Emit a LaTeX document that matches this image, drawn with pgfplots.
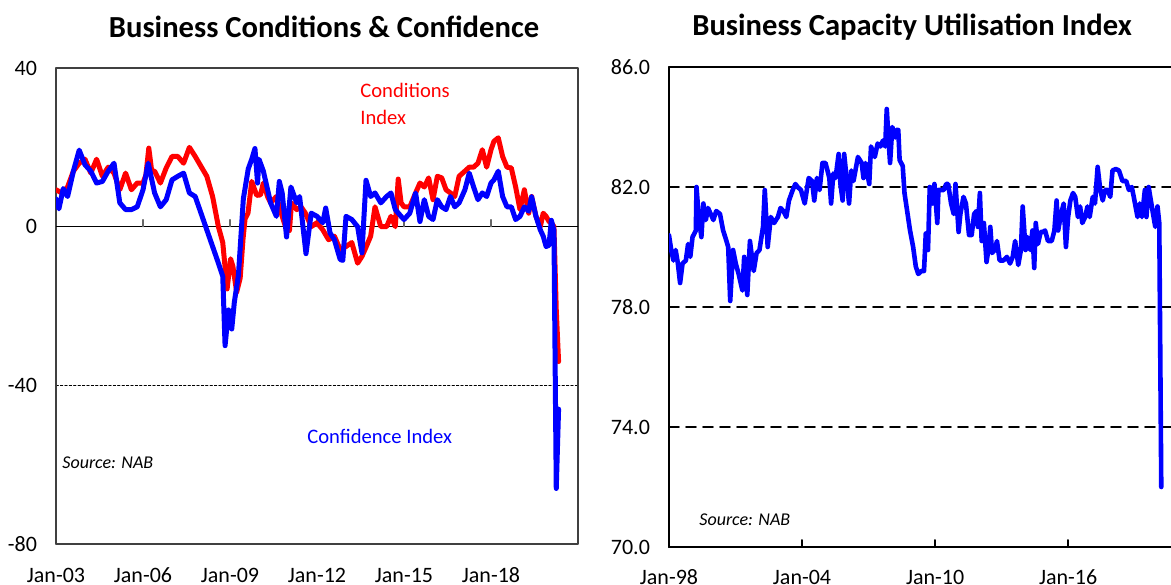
\documentclass[border=0pt]{standalone}
\usepackage{pgfplots}
\pgfplotsset{compat=1.18}
\usepackage{fontspec}
\setmainfont{Carlito}
\definecolor{cred}{RGB}{255,0,0}
\definecolor{cblue}{RGB}{0,0,255}
\begin{document}
\begin{tikzpicture}
% ---------------- Left chart ----------------
\begin{axis}[
  at={(28pt,20pt)}, anchor=south west, scale only axis,
  width=261pt, height=238pt,
  xmin=2003, xmax=2021, ymin=-80, ymax=40,
  xtick={2003,2006,2009,2012,2015,2018},
  xticklabels={Jan-03,Jan-06,Jan-09,Jan-12,Jan-15,Jan-18},
  ytick={-80,-40,0,40},
  yticklabels={-80,-40,0,40},
  tick style={draw=none},
  axis line style={draw=black!75, line width=0.7pt},
  tick label style={font=\fontsize{11}{12}\selectfont},
  xticklabel style={anchor=center, yshift=-15.5pt},
  yticklabel style={anchor=east, xshift=-6pt},
  ymajorgrids, major grid style={black, line width=0.4pt, dash pattern=on 1.2pt off 1pt},
  line join=round, line cap=round,
]
\draw[black, line width=0.6pt] (rel axis cs:0,0.666667) -- (rel axis cs:1,0.666667);
\draw[black!60, line width=0.6pt] (rel axis cs:0.166667,0.666667) -- ++(0pt,3.5pt);
\draw[black!60, line width=0.6pt] (rel axis cs:0.333333,0.666667) -- ++(0pt,3.5pt);
\draw[black!60, line width=0.6pt] (rel axis cs:0.5,0.666667) -- ++(0pt,3.5pt);
\draw[black!60, line width=0.6pt] (rel axis cs:0.666667,0.666667) -- ++(0pt,3.5pt);
\draw[black!60, line width=0.6pt] (rel axis cs:0.833333,0.666667) -- ++(0pt,3.5pt);
\addplot[cred, line width=2.5pt] coordinates {
(2003.0,9.3)(2003.2,8.5)(2003.4,10)(2003.6,14)(2003.8,16)(2004.0,17)(2004.2,13.5)(2004.4,17)(2004.6,12.7)(2004.8,15)
(2005.0,13.5)(2005.2,9.3)(2005.4,13.5)(2005.6,9.3)(2005.8,11)(2006.0,11)(2006.1,13)(2006.2,19.8)(2006.3,14)(2006.4,14)
(2006.6,11)(2006.8,14.8)(2007.0,17.7)(2007.2,17.7)(2007.4,16)(2007.6,20)(2007.8,17.7)(2008.0,15.2)(2008.2,12.7)(2008.4,7.6)
(2008.6,0)(2008.75,-4)(2008.9,-15.7)(2009.02,-8.1)(2009.1,-10)(2009.23,-16.5)(2009.35,-13)(2009.45,-3)(2009.52,2)(2009.62,3.4)
(2009.75,11.4)(2009.92,7.9)(2010.05,8)(2010.15,11)(2010.3,7.5)(2010.4,6)(2010.6,7.6)(2010.8,2.6)(2010.95,-0.8)(2011.05,-1)
(2011.12,6)(2011.3,4.3)(2011.45,5)(2011.6,3.4)(2011.8,0)(2012.0,1)(2012.2,-0.8)(2012.4,-3.3)(2012.6,-2.4)(2012.8,-5.8)
(2013.0,-5)(2013.2,-4)(2013.4,-9.2)(2013.55,-7.5)(2013.7,-5)(2013.85,-2.4)(2014.0,5)(2014.2,0)(2014.4,0)(2014.55,2.6)
(2014.7,0)(2014.8,12)(2014.9,6)(2015.0,5)(2015.2,5)(2015.4,8.5)(2015.55,11)(2015.7,10)(2015.85,12.3)(2016.0,6.8)
(2016.15,12.7)(2016.3,12.3)(2016.45,9.3)(2016.6,8.5)(2016.75,7.6)(2016.9,12.7)(2017.1,14)(2017.25,15)(2017.4,15)(2017.55,16)
(2017.7,19.4)(2017.85,15)(2018.0,19.4)(2018.1,21.5)(2018.25,22.4)(2018.4,17.7)(2018.55,15)(2018.7,14.8)(2018.85,10)(2019.0,4.3)
(2019.15,9.3)(2019.3,3.4)(2019.4,7.6)(2019.55,2.6)(2019.7,0)(2019.8,3.4)(2019.9,2.6)(2020.0,1.3)(2020.08,1)(2020.17,0)
(2020.25,-21)(2020.33,-34)
};
\addplot[cblue, line width=2.5pt] coordinates {
(2003.0,7)(2003.1,4.5)(2003.25,9.6)(2003.4,7.6)(2003.6,14)(2003.8,19.3)(2004.0,15.6)(2004.2,14)(2004.4,11)(2004.6,11.4)
(2004.8,14)(2005.0,16)(2005.2,6)(2005.4,4.3)(2005.6,4.3)(2005.8,5)(2006.0,9.3)(2006.18,16)(2006.4,8.5)(2006.6,5)
(2006.8,6.8)(2007.0,11.8)(2007.2,12.7)(2007.4,13.5)(2007.6,8.5)(2007.8,7.6)(2008.0,3.4)(2008.2,-0.8)(2008.4,-5)(2008.6,-9.2)
(2008.75,-12.5)(2008.83,-30)(2008.95,-21)(2009.06,-25.8)(2009.15,-19)(2009.29,-12.3)(2009.46,7)(2009.63,14.6)(2009.75,17)(2009.86,19.7)
(2009.95,11)(2010.0,17)(2010.15,14)(2010.4,6)(2010.6,2.6)(2010.7,11.4)(2010.8,8.5)(2010.95,-2.6)(2011.1,10)(2011.3,6)
(2011.4,7.6)(2011.62,-6.8)(2011.8,3.4)(2012.0,2.6)(2012.2,1)(2012.3,4.7)(2012.45,-1.6)(2012.6,-3.3)(2012.8,-8.3)(2012.89,-8.5)
(2013.0,2.6)(2013.2,1.8)(2013.4,0)(2013.55,-6.6)(2013.69,11.7)(2013.85,7.6)(2014.0,8.5)(2014.2,6)(2014.4,7.6)(2014.55,8.5)
(2014.7,4.3)(2014.9,2.6)(2015.0,1.8)(2015.2,3.4)(2015.4,8.5)(2015.55,1.3)(2015.7,6.8)(2015.85,2.6)(2016.0,1.8)(2016.15,6.8)
(2016.3,5)(2016.45,4.3)(2016.6,7.6)(2016.75,5)(2016.9,6)(2017.1,9.3)(2017.25,13.5)(2017.4,10)(2017.55,6.8)(2017.7,8.5)
(2017.85,7.6)(2018.0,11)(2018.1,11.8)(2018.25,14)(2018.4,7.6)(2018.55,5)(2018.7,5)(2018.85,1.8)(2019.0,2.6)(2019.15,5)
(2019.3,3.9)(2019.4,7.6)(2019.55,2.6)(2019.7,-0.8)(2019.8,-2.4)(2019.9,-5)(2020.0,-4.7)(2020.08,1.6)(2020.17,-1)(2020.25,-66)
(2020.33,-46)
};
\end{axis}
% ---------------- Right chart ----------------
\begin{axis}[
  at={(334.5pt,18.5pt)}, anchor=south west, scale only axis,
  width=255pt, height=240pt,
  xmin=1998, xmax=2021, ymin=70, ymax=86,
  xtick={1998,2004,2010,2016},
  xticklabels={Jan-98,Jan-04,Jan-10,Jan-16},
  ytick={70,74,78,82,86},
  yticklabels={70.0,74.0,78.0,82.0,86.0},
  xtick pos=bottom, tick align=inside,
  major tick length=3.5pt,
  xtick style={black, line width=1pt},
  ytick style={draw=none},
  axis line style={black, line width=1.1pt},
  tick label style={font=\fontsize{11}{12}\selectfont},
  xticklabel style={anchor=center, yshift=-15pt},
  yticklabel style={anchor=east, xshift=-6pt},
  ymajorgrids, major grid style={black, line width=0.9pt, dash pattern=on 5pt off 3.5pt},
  line join=round, line cap=round,
]
\addplot[cblue, line width=2.3pt] coordinates {
(1998.00,80.39)(1998.10,79.9)(1998.20,79.55)(1998.30,79.9)(1998.40,79.45)(1998.50,78.8)(1998.61,79.45)(1998.76,79.55)(1998.86,80.1)(1998.96,79.67)
(1999.06,80.33)(1999.21,80.55)(1999.24,82.0)(1999.34,81.0)(1999.46,80.33)(1999.55,81.45)(1999.66,80.9)(1999.76,81.3)(2000.00,80.9)(2000.13,81.2)
(2000.30,81.1)(2000.44,80.55)(2000.55,80.3)(2000.67,80.0)(2000.76,78.2)(2000.89,79.9)(2001.01,79.45)(2001.14,79.1)(2001.31,78.55)(2001.39,79.67)
(2001.53,78.4)(2001.65,80.2)(2001.82,79.2)(2001.95,79.8)(2002.08,79.9)(2002.24,80.67)(2002.32,81.9)(2002.45,80.0)(2002.59,81.0)(2002.74,80.8)
(2002.91,81.0)(2003.03,81.3)(2003.16,81.2)(2003.29,81.0)(2003.41,81.55)(2003.58,81.9)(2003.70,82.1)(2003.80,82.0)(2003.95,81.9)(2004.12,81.45)
(2004.30,82.3)(2004.45,82.2)(2004.55,81.55)(2004.67,82.3)(2004.79,81.9)(2004.92,82.8)(2005.06,82.8)(2005.23,82.3)(2005.31,81.45)(2005.41,82.45)
(2005.51,82.3)(2005.65,83.1)(2005.73,82.1)(2005.83,81.55)(2005.90,83.1)(2006.02,82.2)(2006.12,81.45)(2006.22,82.55)(2006.32,82.2)(2006.52,83.0)
(2006.69,82.8)(2006.77,82.3)(2006.86,82.8)(2007.03,82.1)(2007.11,83.35)(2007.28,83.0)(2007.41,83.45)(2007.53,83.35)(2007.65,83.55)(2007.75,83.35)
(2007.82,84.6)(2007.92,83.35)(2007.97,82.8)(2008.07,84.0)(2008.20,83.65)(2008.25,83.9)(2008.34,83.9)(2008.40,82.9)(2008.54,82.7)(2008.62,81.8)
(2008.71,81.35)(2008.87,80.55)(2009.01,80.0)(2009.13,79.35)(2009.24,79.1)(2009.38,79.2)(2009.50,79.2)(2009.58,80.45)(2009.68,79.9)(2009.76,82.0)
(2009.88,81.45)(2009.97,82.1)(2010.10,80.8)(2010.15,81.9)(2010.29,81.9)(2010.39,81.9)(2010.50,82.1)(2010.59,82.1)(2010.72,81.45)(2010.84,81.1)
(2010.92,82.1)(2011.06,80.5)(2011.14,81.1)(2011.28,81.67)(2011.39,81.45)(2011.53,80.4)(2011.65,80.4)(2011.76,81.1)(2011.87,81.2)(2011.93,80.67)
(2012.02,81.8)(2012.10,80.2)(2012.20,80.8)(2012.32,79.5)(2012.40,79.9)(2012.49,80.67)(2012.57,79.8)(2012.69,79.9)(2012.79,80.2)(2012.91,79.55)
(2013.08,79.55)(2013.24,79.67)(2013.38,79.45)(2013.50,79.67)(2013.61,80.2)(2013.75,79.4)(2013.87,79.9)(2013.95,81.35)(2014.08,79.9)(2014.17,80.33)
(2014.29,79.9)(2014.39,80.55)(2014.47,79.3)(2014.54,80.8)(2014.64,80.1)(2014.76,80.5)(2014.86,80.5)(2014.96,80.55)(2015.09,80.2)(2015.26,80.2)
(2015.38,80.55)(2015.48,81.55)(2015.55,80.55)(2015.68,81.1)(2015.80,81.45)(2015.90,80.0)(2016.00,81.0)(2016.10,81.55)(2016.22,81.8)(2016.32,81.67)
(2016.44,81.0)(2016.54,81.35)(2016.64,80.8)(2016.77,81.0)(2016.87,81.35)(2016.97,81.0)(2017.11,81.67)(2017.21,81.45)(2017.33,82.67)(2017.45,81.9)
(2017.56,81.55)(2017.66,81.9)(2017.78,81.9)(2017.90,81.67)(2018.00,82.55)(2018.15,82.6)(2018.29,82.55)(2018.45,82.2)(2018.62,82.2)(2018.74,81.9)
(2018.87,82.0)(2018.96,81.67)(2019.04,81.35)(2019.13,81.0)(2019.23,81.45)(2019.33,81.0)(2019.46,81.9)(2019.53,81.0)(2019.63,82.0)(2019.73,81.55)
(2019.83,81.1)(2019.93,80.67)(2020.03,81.35)(2020.11,80.8)(2020.2,72.0)
};
\end{axis}
% ---------------- Text ----------------
\node[font=\fontsize{15.3}{18}\selectfont\bfseries] at (162pt,278.5pt) {Business Conditions \& Confidence};
\node[font=\fontsize{15.3}{18}\selectfont\bfseries] at (456pt,278.5pt) {Business Capacity Utilisation Index};
\node[anchor=west, inner sep=0pt, text=cred, font=\fontsize{10.3}{12}\selectfont] at (180pt,247pt) {Conditions};
\node[anchor=west, inner sep=0pt, text=cred, font=\fontsize{10.3}{12}\selectfont] at (180pt,233.5pt) {Index};
\node[anchor=west, inner sep=0pt, text=cblue, font=\fontsize{10.3}{12}\selectfont] at (153.5pt,74pt) {Confidence Index};
\node[anchor=west, inner sep=0pt, font=\fontsize{9}{10}\selectfont\itshape] at (31pt,60.5pt) {Source: NAB};
\node[anchor=west, inner sep=0pt, font=\fontsize{9}{10}\selectfont\itshape] at (349.5pt,32pt) {Source: NAB};
\pgfresetboundingbox
\path[use as bounding box] (0,0) rectangle (585.5pt,292pt);
\end{tikzpicture}
\end{document}
